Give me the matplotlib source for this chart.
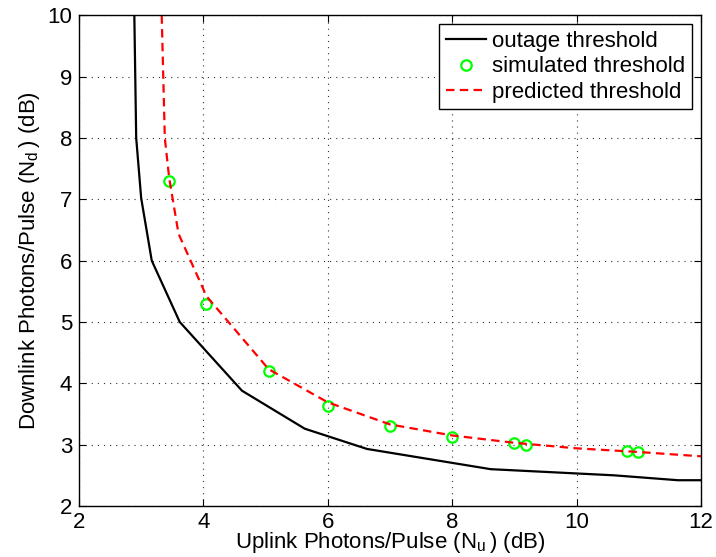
import numpy as np
import matplotlib
matplotlib.use("Agg")
import matplotlib.pyplot as plt

# outage threshold (black solid)
outage_x = [2.89, 2.92, 3.00, 3.17, 3.62, 4.62, 5.63, 6.63, 8.62, 10.6, 11.63, 12.0]
outage_y = [10.0, 8.00, 7.02, 6.00, 5.00, 3.88, 3.26, 2.93, 2.60, 2.50, 2.42, 2.42]

# simulated threshold (green circles)
sim_x = [3.44, 4.04, 5.05, 6.0, 7.0, 8.0, 9.0, 9.19, 10.81, 10.99]
sim_y = [7.30, 5.30, 4.20, 3.63, 3.30, 3.13, 3.02, 3.00, 2.89, 2.88]

# predicted threshold (red dashed)
pred_x = [3.33, 3.38, 3.45, 3.60, 4.05, 5.05, 6.0, 7.0, 8.0, 9.0, 10.0, 11.0, 12.0]
pred_y = [10.0, 8.00, 7.35, 6.44, 5.42, 4.23, 3.69, 3.33, 3.15, 3.03, 2.94, 2.88, 2.81]

plt.rcParams['font.family'] = ['Liberation Sans', 'DejaVu Sans']
plt.rcParams['mathtext.default'] = 'regular'

fig = plt.figure(figsize=(7.16, 5.57), dpi=100)
ax = fig.add_axes([0.1103, 0.0916, 0.8687, 0.8809])

ax.plot(outage_x, outage_y, '-', color='black', linewidth=1.6, label='outage threshold')
ax.plot(sim_x, sim_y, 'o', markerfacecolor='none', markeredgecolor='#00ff00',
        markersize=7.5, markeredgewidth=1.6, label='simulated threshold')
ax.plot(pred_x, pred_y, '--', color='red', linewidth=1.6, dashes=(3.8, 2.4),
        label='predicted threshold')

ax.set_xlim(2, 12)
ax.set_ylim(2, 10)
ax.set_xticks(np.arange(2, 13, 2))
ax.set_yticks(np.arange(2, 11, 1))
ax.grid(True, linestyle=(0, (1, 4.5)), color='#333333', linewidth=0.8)
ax.tick_params(direction='in', top=True, right=True, length=5, labelsize=16, pad=5)
ax.tick_params(axis='x', pad=4)
for s in ax.spines.values():
    s.set_linewidth(1.0)

ax.set_xlabel('Uplink Photons/Pulse (N$_u\\,$) (dB)', fontsize=16, labelpad=-1.5)
ax.set_ylabel('Downlink Photons/Pulse (N$_d\\,$) (dB)', fontsize=16, labelpad=4)

leg = ax.legend(loc='upper right', fontsize=16, frameon=True, fancybox=False,
                borderaxespad=0.4, handlelength=1.8, handletextpad=0.3,
                labelspacing=0.2, borderpad=0.3)
leg.get_frame().set_edgecolor('black')
leg.get_frame().set_linewidth(1.0)
leg.get_frame().set_alpha(1)

fig.savefig('out.png', dpi=100)
